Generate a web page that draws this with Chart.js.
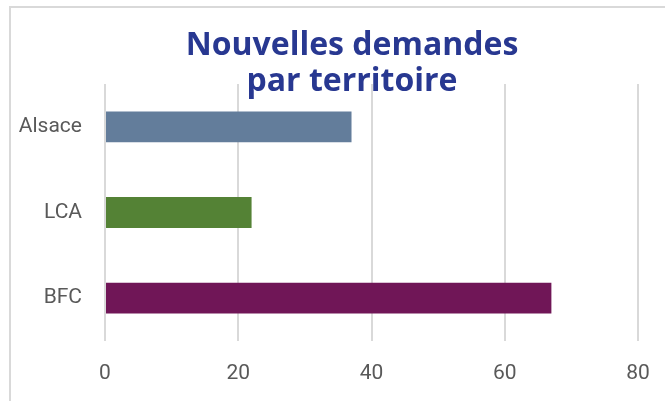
<!DOCTYPE html>
<html>
<head>
<meta charset="utf-8">
<script src="https://cdn.jsdelivr.net/npm/chart.js@4"></script>
<style>
  html, body { margin: 0; padding: 0; background: #fff; overflow: hidden; }
  #frame { position: absolute; left: 9px; top: 6px; width: 720px; height: 440px; border: 2px solid #d9d9d9; }
  #wrap { position: absolute; left: 0; top: 0; width: 665px; height: 401px; }
</style>
</head>
<body>
<div id="frame"></div>
<div id="wrap"><canvas id="chart"></canvas></div>
<script>
const categories = ['Alsace', 'LCA', 'BFC'];
const values = [37, 22, 67];
const barColors = ['#637d9b', '#548235', '#701657'];
const xTicks = [0, 20, 40, 60, 80];
const titleLines = ['Nouvelles demandes', 'par territoire'];

// title sits over the top of the plot, so draw it by hand
const titlePlugin = {
  id: 'overTitle',
  afterDraw(chart) {
    const ctx = chart.ctx;
    ctx.save();
    ctx.fillStyle = '#283891';
    ctx.font = 'bold 32px "Open Sans"';
    ctx.textAlign = 'center';
    ctx.textBaseline = 'alphabetic';
    ctx.fillText(titleLines[0], 352, 55);
    ctx.fillText(titleLines[1], 352, 91);
    ctx.restore();
  }
};

new Chart(document.getElementById('chart'), {
  type: 'bar',
  data: {
    labels: categories,
    datasets: [{
      data: values,
      backgroundColor: barColors,
      barPercentage: 0.36,
      categoryPercentage: 1
    }]
  },
  plugins: [titlePlugin],
  options: {
    indexAxis: 'y',
    responsive: true,
    maintainAspectRatio: false,
    animation: false,
    layout: { padding: { top: 84, right: 27, left: 0, bottom: 0 } },
    plugins: { legend: { display: false }, tooltip: { enabled: false } },
    scales: {
      x: {
        min: 0, max: 80,
        afterBuildTicks: (s) => { s.ticks = xTicks.map(v => ({ value: v })); },
        afterFit: (s) => { s.height = 60; s.paddingLeft = 0; s.paddingRight = 0; },
        grid: { color: '#d9d9d9', lineWidth: 2, drawTicks: false },
        border: { display: false },
        ticks: { padding: 20, color: '#595959', font: { family: 'Roboto', size: 21 } }
      },
      y: {
        afterFit: (s) => { s.width = 105; },
        grid: { display: false },
        border: { display: false },
        ticks: { padding: 15, color: '#595959', font: { family: 'Roboto', size: 21 } }
      }
    }
  }
});
</script>
</body>
</html>
